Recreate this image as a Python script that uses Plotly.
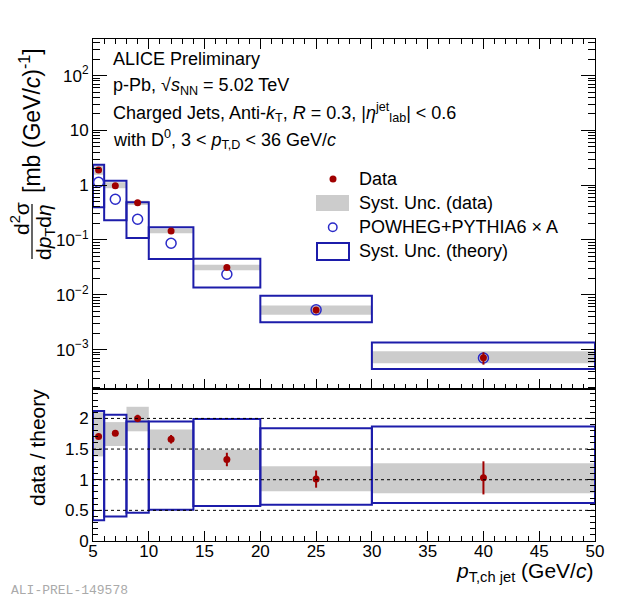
import plotly.graph_objects as go
from plotly.subplots import make_subplots

# ── Bins and values
BIN_LO = [5, 6, 8, 10, 14, 20, 30]
BIN_HI = [6, 8, 10, 14, 20, 30, 50]
PT_CENTER = [5.5, 7, 9, 12, 17, 25, 40]

# top panel: cross section (mb (GeV/c)^-1)
DATA_XS = [1.89, 0.98, 0.48, 0.146, 0.0316, 0.00528, 0.00071]
DATA_XS_STAT = [0.03, 0.02, 0.012, 0.005, 0.0022, 0.0007, 0.00018]
DATA_SYS_LO = [1.55, 0.88, 0.435, 0.133, 0.0281, 0.00430, 0.00056]
DATA_SYS_HI = [2.30, 1.13, 0.52, 0.161, 0.0352, 0.00635, 0.00093]

THEORY_XS = [1.13, 0.553, 0.239, 0.087, 0.0237, 0.0053, 0.00070]
THEORY_SYS_LO = [0.395, 0.229, 0.109, 0.045, 0.0135, 0.00315, 0.00044]
THEORY_SYS_HI = [2.37, 1.21, 0.487, 0.171, 0.0456, 0.00963, 0.00135]

# bottom panel: data / theory
RATIO = [1.705, 1.76, 2.0, 1.66, 1.33, 1.01, 1.03]
RATIO_STAT = [0.04, 0.04, 0.06, 0.07, 0.11, 0.14, 0.27]
RATIO_SYS_LO = [1.38, 1.55, 1.79, 1.49, 1.16, 0.81, 0.78]
RATIO_SYS_HI = [2.10, 1.94, 2.19, 1.82, 1.49, 1.22, 1.27]
RATIO_TH_LO = [0.34, 0.40, 0.46, 0.51, 0.57, 0.59, 0.62]
RATIO_TH_HI = [2.12, 2.06, 1.95, 1.95, 1.99, 1.84, 1.87]

LOG_TICKS = [1e-3, 1e-2, 1e-1, 1, 10, 100]
LOG_TICKTEXT = ['10<sup>−3</sup>', '10<sup>−2</sup>', '10<sup>−1</sup>', '1', '10', '10<sup>2</sup>']
RATIO_TICKS = [0, 0.5, 1, 1.5, 2]
RATIO_TICKTEXT = ['0', '0.5', '1', '1.5', '2']
PT_TICKS = [5, 10, 15, 20, 25, 30, 35, 40, 45, 50]

# ── Style
FONT = 'Liberation Sans'
RED = '#a00000'
BLUE = '#1c1caa'
CIRCLE_BLUE = '#2a2ac8'
GRAY = '#cccccc'

# the page body has an 8 px margin, so the figure starts at (8, 8)
OFF = 8
W, H = 620 - OFF, 598 - OFF
L, R, T, B = 93, 595, 39, 541     # plot frame in window pixels
SPLIT = 389


def px(xp):
    return (xp - L) / (R - L)


def py(yp):
    return (B - yp) / (B - T)


widths = [h - l for l, h in zip(BIN_LO, BIN_HI)]

fig = make_subplots(rows=2, cols=1, shared_xaxes=False, vertical_spacing=0,
                    row_heights=[SPLIT - T, B - SPLIT])


def add_panel(row, sys_lo, sys_hi, th_lo, th_hi, theory, data, stat):
    fig.add_trace(go.Bar(
        x=PT_CENTER, y=[h - l for l, h in zip(sys_lo, sys_hi)], base=sys_lo,
        width=widths, marker=dict(color=GRAY, line=dict(width=0)),
        showlegend=False, hoverinfo='skip',
    ), row=row, col=1)
    fig.add_trace(go.Bar(
        x=PT_CENTER, y=[h - l for l, h in zip(th_lo, th_hi)], base=th_lo,
        width=widths, marker=dict(color='rgba(0,0,0,0)', line=dict(color=BLUE, width=2)),
        showlegend=False, hoverinfo='skip',
    ), row=row, col=1)
    if theory is not None:
        fig.add_trace(go.Scatter(
            x=PT_CENTER, y=theory, mode='markers',
            marker=dict(symbol='circle-open', size=10, color=CIRCLE_BLUE, line=dict(width=1.5)),
            showlegend=False,
        ), row=row, col=1)
    fig.add_trace(go.Scatter(
        x=PT_CENTER, y=data, mode='markers',
        marker=dict(symbol='circle', size=7, color=RED),
        error_y=dict(type='data', array=stat, color=RED, thickness=2, width=0),
        showlegend=False,
    ), row=row, col=1)


add_panel(1, DATA_SYS_LO, DATA_SYS_HI, THEORY_SYS_LO, THEORY_SYS_HI,
          THEORY_XS, DATA_XS, DATA_XS_STAT)
add_panel(2, RATIO_SYS_LO, RATIO_SYS_HI, RATIO_TH_LO, RATIO_TH_HI,
          None, RATIO, RATIO_STAT)

axis_common = dict(showline=True, linecolor='black', linewidth=1,
                   ticks='inside', tickcolor='black', zeroline=False,
                   tickfont=dict(family=FONT, size=17, color='black'))

minor_log = [m * 10 ** e for e in range(-4, 3) for m in range(2, 10)]

fig.update_xaxes(range=[5, 50], tickvals=PT_TICKS, ticklen=10, showgrid=False,
                 minor=dict(ticks='inside', ticklen=5, dtick=1, tick0=5, tickcolor='black'),
                 **axis_common)
fig.update_xaxes(showticklabels=False, mirror='allticks', row=1, col=1)
fig.update_xaxes(mirror=True, ticklabelstandoff=-5, row=2, col=1)

fig.update_yaxes(type='log', range=[-3.72, 2.668], tickvals=LOG_TICKS, ticktext=LOG_TICKTEXT,
                 ticklen=14, mirror='allticks', showgrid=False,
                 minor=dict(ticks='inside', ticklen=7, tickvals=minor_log, tickcolor='black'),
                 row=1, col=1, **axis_common)
fig.update_yaxes(range=[0, 2.48], tickvals=RATIO_TICKS, ticktext=RATIO_TICKTEXT,
                 ticklen=8, mirror='allticks', showgrid=False,
                 minor=dict(ticks='inside', ticklen=5, dtick=0.1, tick0=0, tickcolor='black'),
                 row=2, col=1, **axis_common)

# dotted reference lines in the ratio panel
shapes = []
for v in RATIO_TICKS[1:]:
    shapes.append(dict(type='line', xref='x2 domain', yref='y2', x0=0, x1=1, y0=v, y1=v,
                       line=dict(color='black', width=1, dash='dot'), layer='above'))

# legend (drawn by hand to get ROOT-like keys)
shapes += [
    dict(type='circle', xref='paper', yref='paper', x0=px(329.5), x1=px(336.5),
         y0=py(182.5), y1=py(175.5), fillcolor=RED, line=dict(width=0)),
    dict(type='rect', xref='paper', yref='paper', x0=px(316), x1=px(349),
         y0=py(211), y1=py(195), fillcolor=GRAY, line=dict(width=0)),
    dict(type='circle', xref='paper', yref='paper', x0=px(328.5), x1=px(337),
         y0=py(231.5), y1=py(223), line=dict(color=CIRCLE_BLUE, width=1.5)),
    dict(type='rect', xref='paper', yref='paper', x0=px(317), x1=px(349),
         y0=py(260), y1=py(243), line=dict(color=BLUE, width=2)),
    # fraction bar of the y title
    dict(type='line', xref='paper', yref='paper', x0=px(32), x1=px(32),
         y0=py(204), y1=py(259), line=dict(color='black', width=1.2)),
]

ann = []


def text(x, y, s, size=18, **kw):
    d = dict(xref='paper', yref='paper', x=px(x), y=py(y), text=s, showarrow=False,
             xanchor='left', yanchor='middle', font=dict(family=FONT, size=size, color='black'))
    d.update(kw)
    ann.append(d)


text(111, 59, 'ALICE Preliminary')
text(111, 86, 'p-Pb, √<i>s</i><sub>NN</sub> = 5.02 TeV')
text(111, 113, 'Charged Jets, Anti-<i>k</i><sub>T</sub>, <i>R</i> = 0.3, '
               '|<i>η</i><sup>jet</sup><sub>lab</sub>| &lt; 0.6')
text(111, 139, 'with D<sup>0</sup>, 3 &lt; <i>p</i><sub>T,D</sub> &lt; 36 GeV/<i>c</i>')

text(357, 179, 'Data')
text(357, 203, 'Syst. Unc. (data)')
text(357, 227, 'POWHEG+PYTHIA6 × A')
text(357, 251, 'Syst. Unc. (theory)')

text(20, 219, 'd<sup>2</sup>σ', size=21, textangle=-90, xanchor='center')
text(45, 232, 'd<i>p</i><sub>T</sub>d<i>η</i>', size=21, textangle=-90, xanchor='center')
text(30, 121, '[mb (GeV/<i>c</i>)<sup>-1</sup>]', size=23, textangle=-90, xanchor='center')
text(38, 448, 'data / theory', size=21, textangle=-90, xanchor='center')
text(595, 572, '<i>p</i><sub>T,ch jet</sub> (GeV/<i>c</i>)', size=21, xanchor='right')

ann.append(dict(xref='paper', yref='paper', x=px(9), y=py(590), text='ALI-PREL-149578',
                showarrow=False, xanchor='left', yanchor='middle',
                font=dict(family='Liberation Mono', size=13, color='#aaaaaa')))

fig.update_layout(
    width=W, height=H,
    margin=dict(l=L - OFF, r=W + OFF - R, t=T - OFF, b=H + OFF - B, pad=0),
    paper_bgcolor='white', plot_bgcolor='white',
    barmode='overlay', showlegend=False,
    shapes=shapes, annotations=ann,
    font=dict(family=FONT, color='black'),
)

fig.write_html("out.html")
